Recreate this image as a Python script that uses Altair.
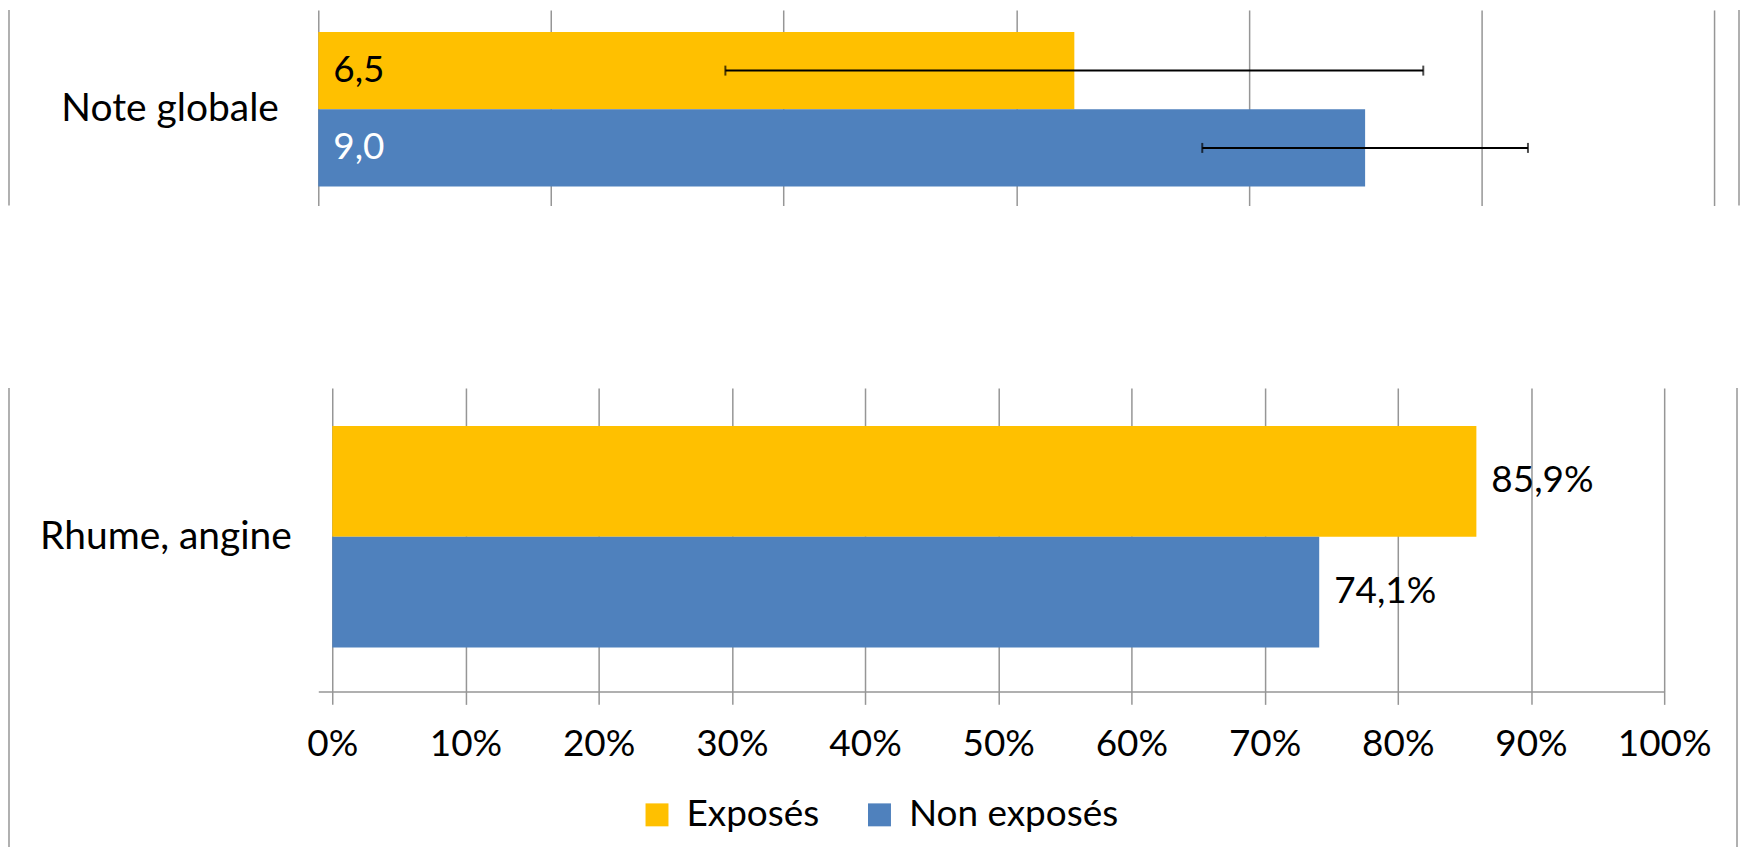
import altair as alt
import pandas as pd

# ---------------- data ----------------
groups = ["Exposés", "Non exposés"]
group_colors = ["#FFC000", "#4F81BD"]

note_category = "Note globale"
note_values = [6.5, 9.0]
note_errors = [3.0, 1.4]
note_ticks = [0, 2, 4, 6, 8, 10, 12]

rhume_category = "Rhume, angine"
rhume_values = [0.859, 0.741]
pct_ticks = [0.0, 0.1, 0.2, 0.3, 0.4, 0.5, 0.6, 0.7, 0.8, 0.9, 1.0]

# ---------------- styles ----------------
FONT = "Lato"
FS = 37
FS_CAT = 39
GRID = "#969696"
GW = 1.5


def fr(v, pct=False):
    s = f"{v * 100:.1f}%" if pct else f"{v:.1f}"
    return s.replace(".", ",")


df_note = pd.DataFrame({
    "cat": [note_category] * len(groups),
    "group": groups,
    "value": note_values,
    "zero": [0.0] * len(groups),
    "lo": [v - e for v, e in zip(note_values, note_errors)],
    "hi": [v + e for v, e in zip(note_values, note_errors)],
    "label": [fr(v) for v in note_values],
})

df_rhume = pd.DataFrame({
    "cat": [rhume_category] * len(groups),
    "group": groups,
    "value": rhume_values,
    "zero": [0.0] * len(groups),
    "label": [fr(v, pct=True) for v in rhume_values],
})

frame_df = pd.DataFrame({"d": [0]})

yoff = alt.YOffset("group:N", sort=groups,
                   scale=alt.Scale(paddingInner=0, paddingOuter=0))

# ---------------- top panel ----------------
TOP_W, TOP_H = 1399, 196

x_top_scale = alt.Scale(domain=[0, 12], nice=False, zero=False)
x_top_axis = alt.Axis(values=note_ticks, labels=False, ticks=False,
                      domain=False, grid=True, gridColor=GRID,
                      gridWidth=GW, title=None, minExtent=0, maxExtent=0)
y_top = alt.Y("cat:N", title=None,
              scale=alt.Scale(paddingInner=0, paddingOuter=0.1323, align=0.537),
              axis=alt.Axis(labelFont=FONT, labelFontSize=FS_CAT, labelColor="black",
                            labelPadding=40, ticks=False, domain=False,
                            grid=False, labelLimit=700))

top_base = alt.Chart(df_note)

top_bars = top_base.mark_bar().encode(
    x=alt.X("value:Q", scale=x_top_scale, axis=x_top_axis),
    x2="zero:Q",
    y=y_top,
    yOffset=yoff,
    color=alt.Color("group:N", sort=groups,
                    scale=alt.Scale(domain=groups, range=group_colors),
                    legend=None),
)

top_text = top_base.mark_text(align="left", baseline="middle", dx=15,
                              font=FONT, fontSize=FS).encode(
    x=alt.X("zero:Q", scale=x_top_scale, axis=x_top_axis),
    y=y_top,
    yOffset=yoff,
    text="label:N",
    color=alt.condition(alt.datum.group == groups[0],
                        alt.value("black"), alt.value("white")),
)

top_err = top_base.mark_rule(color="black", strokeWidth=2).encode(
    x=alt.X("lo:Q", scale=x_top_scale, axis=x_top_axis),
    x2="hi:Q",
    y=y_top,
    yOffset=yoff,
)

top_caps = top_base.transform_fold(["lo", "hi"], as_=["end", "pos"]).mark_tick(
    color="black", thickness=2, size=10).encode(
    x=alt.X("pos:Q", scale=x_top_scale, axis=x_top_axis),
    y=y_top,
    yOffset=yoff,
)

top_frame_l = alt.Chart(frame_df).mark_rule(color=GRID, strokeWidth=GW).encode(
    x=alt.value(-310), y=alt.value(0), y2=alt.value(TOP_H))
top_frame_r = alt.Chart(frame_df).mark_rule(color=GRID, strokeWidth=GW).encode(
    x=alt.value(1424), y=alt.value(0), y2=alt.value(TOP_H))

top = alt.layer(top_bars, top_err, top_caps, top_text,
                top_frame_l, top_frame_r).properties(width=TOP_W, height=TOP_H)

# ---------------- bottom panel ----------------
BOT_W, BOT_H = 1349, 304

x_bot_scale = alt.Scale(domain=[-0.0105, 1.0], nice=False, zero=False)
x_bot_axis = alt.Axis(values=pct_ticks, format=".0%", title=None,
                      labelFont=FONT, labelFontSize=FS, labelColor="black",
                      labelPadding=22, labelFlush=False, labelOverlap=False,
                      tickSize=13, tickColor=GRID, tickWidth=GW,
                      domainColor=GRID, domainWidth=GW,
                      grid=True, gridColor=GRID, gridWidth=GW)
y_bot = alt.Y("cat:N", title=None,
              scale=alt.Scale(paddingInner=0, paddingOuter=0.1847, align=0.463),
              axis=alt.Axis(labelFont=FONT, labelFontSize=FS_CAT, labelColor="black",
                            labelPadding=27, ticks=False, domain=False,
                            grid=False, labelLimit=700))

bot_base = alt.Chart(df_rhume)

bot_bars = bot_base.mark_bar().encode(
    x=alt.X("value:Q", scale=x_bot_scale, axis=x_bot_axis),
    x2="zero:Q",
    y=y_bot,
    yOffset=yoff,
    color=alt.Color("group:N", sort=groups,
                    scale=alt.Scale(domain=groups, range=group_colors),
                    legend=alt.Legend(title=None, orient="none",
                                      legendX=321, legendY=409,
                                      direction="horizontal",
                                      symbolType="square", symbolSize=529,
                                      symbolStrokeWidth=0, symbolOpacity=1,
                                      labelFont=FONT, labelFontSize=FS,
                                      labelColor="black", labelOffset=11,
                                      columnPadding=41, labelLimit=500)),
)

bot_text = bot_base.mark_text(align="left", baseline="middle", dx=15,
                              font=FONT, fontSize=FS, color="black").encode(
    x=alt.X("value:Q", scale=x_bot_scale, axis=x_bot_axis),
    y=y_bot,
    yOffset=yoff,
    text="label:N",
)

BOT_FRAME = 460
bot_frame_l = alt.Chart(frame_df).mark_rule(color=GRID, strokeWidth=GW).encode(
    x=alt.value(-310), y=alt.value(0), y2=alt.value(BOT_FRAME))
bot_frame_r = alt.Chart(frame_df).mark_rule(color=GRID, strokeWidth=GW).encode(
    x=alt.value(1422), y=alt.value(0), y2=alt.value(BOT_FRAME))

bottom = alt.layer(bot_bars, bot_text, bot_frame_l,
                   bot_frame_r).properties(width=BOT_W, height=BOT_H)

chart = alt.vconcat(top, bottom, spacing=181).resolve_scale(
    x="independent", y="independent", yOffset="independent",
    color="independent"
).resolve_legend(color="independent").properties(
    padding={"left": 0, "top": 0, "right": 0, "bottom": 0},
    background="white"
).configure_view(stroke=None, strokeWidth=0)

chart.save("out.html", embed_options={"renderer": "svg", "actions": False})
